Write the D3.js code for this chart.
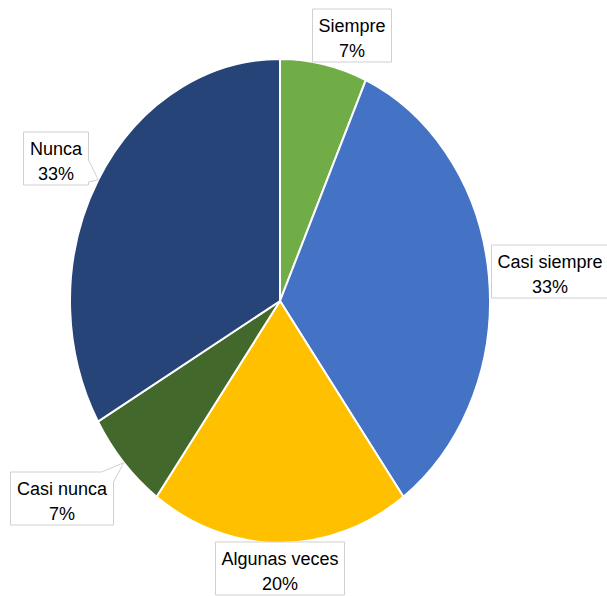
<!DOCTYPE html>
<html>
<head>
<meta charset="utf-8">
<script src="https://cdn.jsdelivr.net/npm/d3@7"></script>
<style>
  html, body { margin: 0; padding: 0; background: #fff; }
  svg { display: block; font-family: "Liberation Sans", Arial, sans-serif; }
</style>
</head>
<body>
<div id="chart"></div>
<script>
const categories = ["Siempre", "Casi siempre", "Algunas veces", "Casi nunca", "Nunca"];
const values = [6.7, 33.3, 20, 6.7, 33.3];
const colors = ["#70AD47", "#4472C4", "#FFC000", "#43682B", "#264478"];

// label box placement (center x, first baseline y), and whether it gets a pointer
const labelX = [352, 550, 280, 62, 56];
const labelY = [32, 268, 565, 495, 155];
const pointer = [false, false, false, true, true];

const width = 607, height = 596;
const cx = 280, cy = 301, rx = 210, ry = 242;

const svg = d3.select("#chart").append("svg")
  .attr("width", width)
  .attr("height", height);

const pie = d3.pie().sort(null).value((d) => d.value);
const arcs = pie(categories.map((c, i) => ({ name: c, value: values[i], color: colors[i] })));
const arc = d3.arc().innerRadius(0).outerRadius(rx);

svg.append("g")
  .attr("transform", `translate(${cx},${cy}) scale(1,${ry / rx})`)
  .selectAll("path")
  .data(arcs)
  .join("path")
  .attr("d", arc)
  .attr("fill", (d) => d.data.color)
  .attr("stroke", "#fff")
  .attr("stroke-width", 2)
  .attr("vector-effect", "non-scaling-stroke");

const total = d3.sum(values);
const fmt = (v) => Math.round((v / total) * 100) + "%";

const labels = svg.append("g").selectAll("g")
  .data(arcs)
  .join("g");

labels.each(function (d, i) {
  const g = d3.select(this);
  const x = labelX[i], y = labelY[i];
  const t = g.append("text")
    .attr("text-anchor", "middle")
    .attr("font-size", 18)
    .attr("fill", "#000");
  t.append("tspan").attr("x", x).attr("y", y).text(d.data.name);
  t.append("tspan").attr("x", x).attr("y", y + 25).text(fmt(d.data.value));
  const bb = t.node().getBBox();
  const bw = bb.width + 12;
  const top = y - 23, bottom = y + 30;
  const left = x - bw / 2, right = x + bw / 2;

  let path = `M${left},${top}H${right}V${bottom}H${left}Z`;
  if (pointer[i]) {
    const a = (d.startAngle + d.endAngle) / 2;
    const tx = cx + Math.sin(a) * rx, ty = cy - Math.cos(a) * ry;
    if (ty < top) {
      // pointer leaving from the top edge near the right corner
      path = `M${left},${top}H${right - 12}L${tx},${ty}L${right},${top + 10}V${bottom}H${left}Z`;
    } else {
      // pointer leaving from the right edge
      path = `M${left},${top}H${right}V${top + 28}L${tx},${ty}L${right},${bottom - 3}V${bottom}H${left}Z`;
    }
  }
  g.insert("path", "text")
    .attr("d", path)
    .attr("fill", "#fff")
    .attr("stroke", "#d0d0d0")
    .attr("stroke-width", 1);
});
</script>
</body>
</html>
